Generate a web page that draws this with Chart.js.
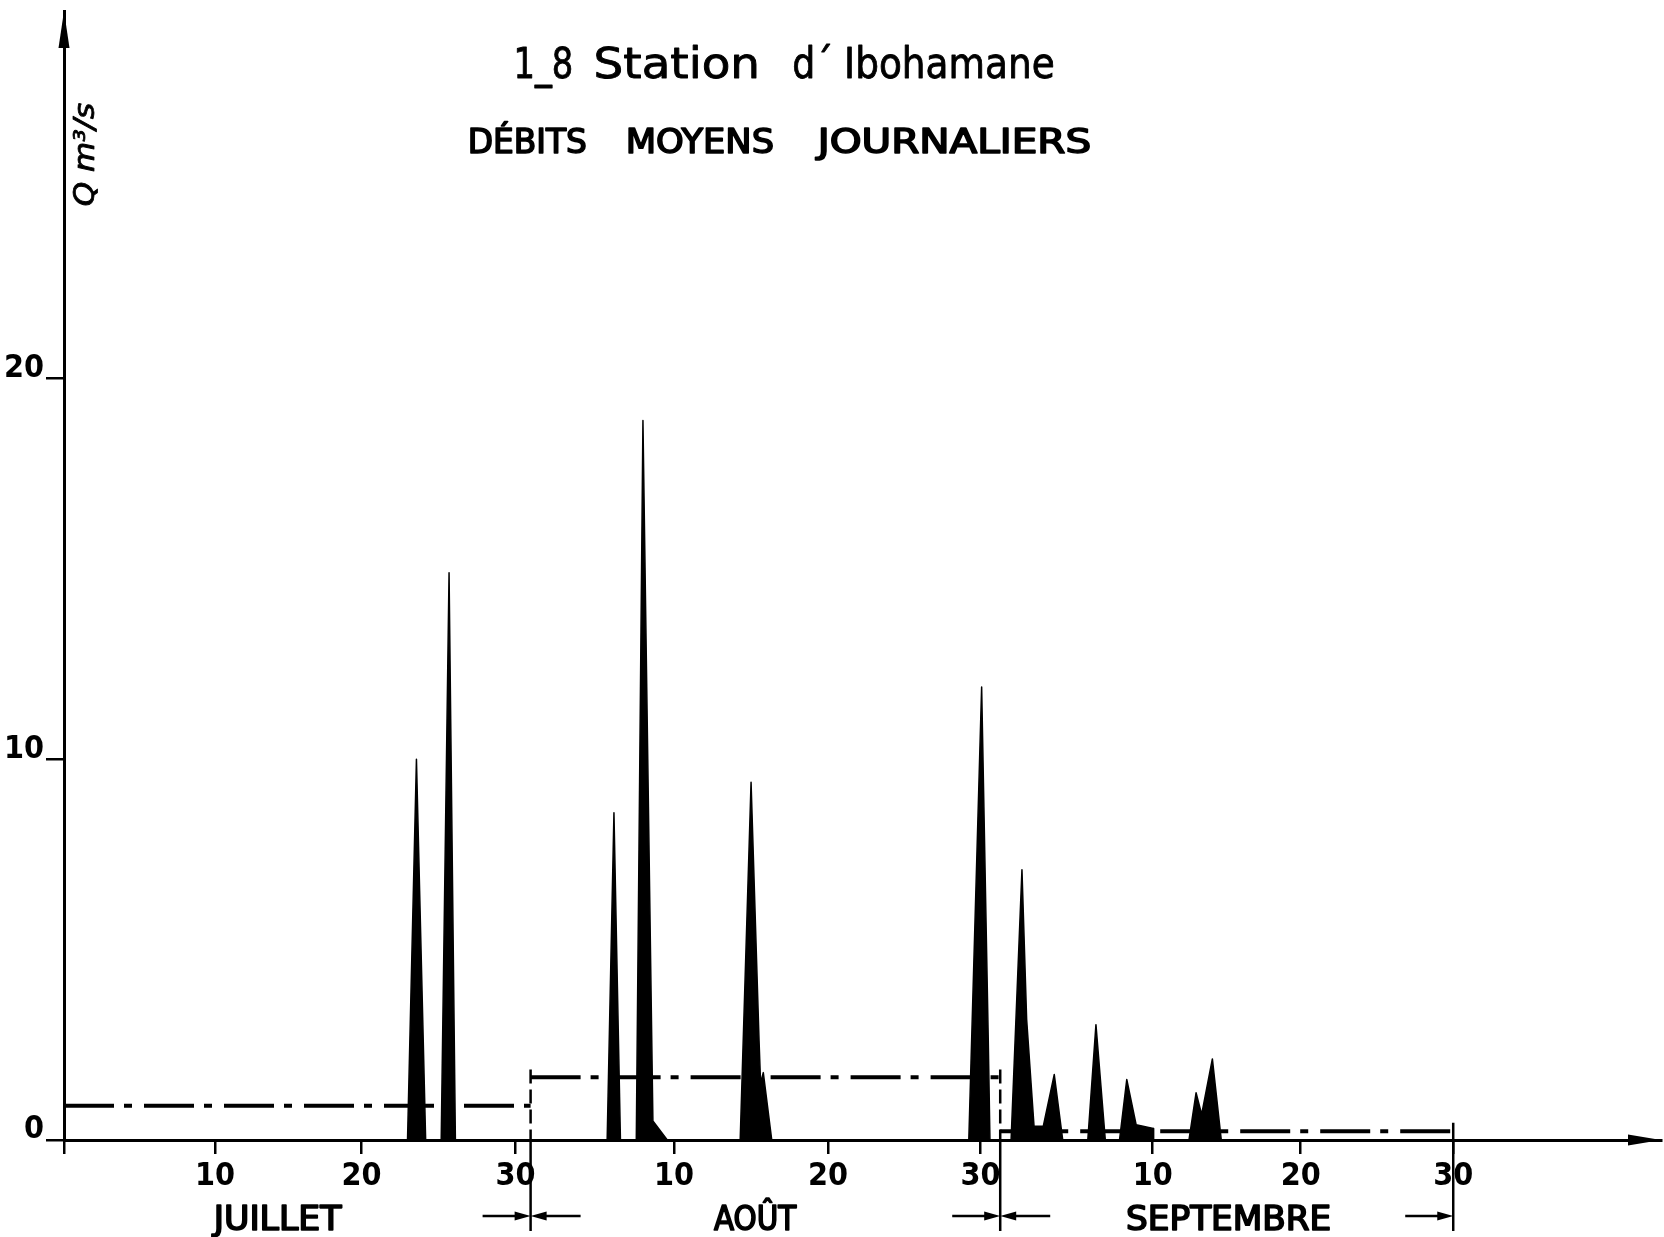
<!DOCTYPE html>
<html>
<head>
<meta charset="utf-8">
<script src="https://cdn.jsdelivr.net/npm/chart.js@4.4.1/dist/chart.umd.min.js"></script>
<style>
  html, body { margin: 0; padding: 0; background: #fff; }
  #wrap { width: 1664px; height: 1237px; position: relative; }
</style>
</head>
<body>
<div id="wrap"><canvas id="hydro"></canvas></div>
<script>
// position en jours sur le graphique (0 = axe, ~31 = fin juillet, ~62 = fin août)
const jours = [
  0, 22.75, 23.34, 23.95,
  24.98, 25.5, 25.92,
  35.97, 36.42, 36.85,
  37.9, 38.34, 39.0, 39.95,
  44.78, 45.5, 46.03, 46.13, 46.31, 46.87,
  59.92, 60.77, 61.21, 61.32,
  62.72, 63.44, 63.75, 64.24, 64.85, 65.58, 66.14,
  67.8, 68.34, 68.96,
  69.9, 70.38, 71.0, 72.14, 72.16,
  74.5, 74.97, 75.34, 76.05, 76.64,
  92
];
// débits en m3/s
const debits = [
  0, 0, 10.0, 0,
  0, 14.9, 0,
  0, 8.6, 0,
  0, 18.9, 0.5, 0,
  0, 9.4, 2.6, 1.5, 1.77, 0,
  0, 11.9, 2.6, 0,
  0, 7.1, 3.17, 0.36, 0.36, 1.72, 0,
  0, 3.03, 0,
  0, 1.59, 0.4, 0.3, 0,
  0, 1.24, 0.67, 2.13, 0,
  0
];

// débits moyens mensuels
const mois = ['JUILLET', 'AOÛT', 'SEPTEMBRE'];
const debutMois = [0, 30.9, 62.0];
const finMois = [30.9, 62.0, 92.0];
const debitsMoyens = [0.9, 1.65, 0.23];
const centreMois = [14.1, 45.8, 77.1];

const tickJours = [0, 10, 19.7, 29.9, 40.4, 50.6, 60.7, 72.1, 81.9, 92.0];
const tickLabels = ['', '10', '20', '30', '10', '20', '30', '10', '20', '30'];
const tickDebits = [0, 10, 20];

const FONT = "'DejaVu Sans Condensed', 'DejaVu Sans', sans-serif";
const FONT_TICK = "'Liberation Sans Narrow', 'DejaVu Sans Condensed', 'DejaVu Sans', sans-serif";

const hydrogramme = jours.map((j, i) => ({x: j, y: debits[i]}));

const datasets = [{
  data: hydrogramme,
  borderColor: '#000',
  backgroundColor: '#000',
  borderWidth: 1.5,
  borderJoinStyle: 'round',
  fill: 'origin',
  pointRadius: 0,
  tension: 0
}];

debitsMoyens.forEach((q, i) => {
  datasets.push({
    data: [{x: debutMois[i], y: q}, {x: finMois[i], y: q}],
    borderColor: '#000',
    borderWidth: 4,
    borderDash: [50, 10, 8, 12],
    fill: false,
    pointRadius: 0
  });
});

// traits de séparation des mois
[[finMois[0], 1.85, [14, 6]], [finMois[1], 1.85, [14, 6]], [finMois[2], 0.45, []]].forEach(l => {
  datasets.push({
    data: [{x: l[0], y: l[1]}, {x: l[0], y: 0}],
    borderColor: '#000',
    borderWidth: 2.5,
    borderDash: l[2],
    fill: false,
    pointRadius: 0
  });
});

function texteAjuste(ctx, txt, x0, x1, base, font, epais) {
  ctx.save();
  ctx.font = font;
  ctx.textAlign = 'left';
  ctx.textBaseline = 'alphabetic';
  const m = ctx.measureText(txt);
  const w = m.actualBoundingBoxLeft + m.actualBoundingBoxRight;
  const sx = (x1 - x0) / w;
  ctx.translate(x0, base);
  ctx.scale(sx, 1);
  ctx.fillText(txt, m.actualBoundingBoxLeft, 0);
  if (epais) {
    ctx.lineWidth = epais;
    ctx.lineJoin = 'round';
    ctx.strokeText(txt, m.actualBoundingBoxLeft, 0);
  }
  ctx.restore();
}

function fleche(ctx, x1, x2, y) {
  const d = x2 > x1 ? 1 : -1;
  ctx.beginPath();
  ctx.moveTo(x1, y);
  ctx.lineTo(x2 - d * 10, y);
  ctx.stroke();
  ctx.beginPath();
  ctx.moveTo(x2, y);
  ctx.lineTo(x2 - d * 16, y - 4.5);
  ctx.lineTo(x2 - d * 16, y + 4.5);
  ctx.closePath();
  ctx.fill();
}

const dessin = {
  id: 'dessin',
  afterDraw(chart) {
    const ctx = chart.ctx;
    const xs = chart.scales.x, ys = chart.scales.y;
    const area = chart.chartArea;
    const y0 = ys.getPixelForValue(0);
    ctx.save();
    ctx.fillStyle = '#000';
    ctx.strokeStyle = '#000';

    // flèches des axes
    ctx.beginPath();
    ctx.moveTo(area.left, area.top);
    ctx.lineTo(area.left - 5.5, area.top + 37);
    ctx.lineTo(area.left + 5.5, area.top + 37);
    ctx.closePath();
    ctx.fill();
    ctx.beginPath();
    ctx.moveTo(area.right, y0);
    ctx.lineTo(area.right - 33, y0 - 5.5);
    ctx.lineTo(area.right - 33, y0 + 5.5);
    ctx.closePath();
    ctx.fill();

    // cotes des mois sous l'axe
    ctx.lineWidth = 2.5;
    finMois.forEach((j, i) => {
      const px = xs.getPixelForValue(j);
      ctx.beginPath();
      ctx.moveTo(px, y0);
      ctx.lineTo(px, 1231);
      ctx.stroke();
      fleche(ctx, px - 48, px, 1216);
      if (i < 2) fleche(ctx, px + 50, px, 1216);
    });

    // noms des mois
    const larg = [131, 83, 202];
    mois.forEach((m, i) => {
      const c = xs.getPixelForValue(centreMois[i]);
      texteAjuste(ctx, m, c - larg[i] / 2, c + larg[i] / 2, 1230, '33px ' + FONT, 1.6);
    });

    // titres
    const f1 = '43px ' + FONT;
    texteAjuste(ctx, '1_8', 517, 571, 78, f1, 0.8);
    texteAjuste(ctx, 'Station', 596, 757, 78, f1, 0.8);
    texteAjuste(ctx, 'd´', 794, 831, 78, f1, 0.8);
    texteAjuste(ctx, 'Ibohamane', 847, 1053, 78, f1, 0.8);
    const f2 = '33px ' + FONT;
    texteAjuste(ctx, 'DÉBITS', 470, 586, 153, f2, 1.5);
    texteAjuste(ctx, 'MOYENS', 628, 773, 153, f2, 1.5);
    texteAjuste(ctx, 'JOURNALIERS', 815, 1090, 153, f2, 1.5);

    // unité de l'axe vertical
    ctx.save();
    ctx.translate(94, 205);
    ctx.rotate(-Math.PI / 2);
    texteAjuste(ctx, 'Q m³/s', 0, 102, 0, 'italic 28px ' + FONT, 0.8);
    ctx.restore();

    ctx.restore();
  }
};

new Chart(document.getElementById('hydro'), {
  type: 'line',
  data: {datasets: datasets},
  plugins: [dessin],
  options: {
    responsive: true,
    maintainAspectRatio: false,
    animation: false,
    devicePixelRatio: 1,
    layout: {padding: {top: 11, right: 3, left: 0, bottom: 0}},
    plugins: {legend: {display: false}, tooltip: {enabled: false}},
    scales: {
      x: {
        type: 'linear',
        min: 0,
        max: 105.76,
        afterBuildTicks: s => { s.ticks = tickJours.map(v => ({value: v})); },
        afterFit: s => { s.height = 97; s.paddingLeft = 0; s.paddingRight = 0; },
        ticks: {
          autoSkip: false,
          maxRotation: 0,
          padding: 3,
          color: '#000',
          font: {family: FONT_TICK, size: 32, weight: 'bold'},
          callback: (v, i) => tickLabels[i]
        },
        grid: {drawOnChartArea: false, drawTicks: true, tickLength: 14, color: '#000', lineWidth: 2.5},
        border: {display: true, color: '#000', width: 3}
      },
      y: {
        min: 0,
        max: 29.66,
        afterBuildTicks: s => { s.ticks = tickDebits.map(v => ({value: v})); },
        afterFit: s => { s.width = 64; s.paddingTop = 0; s.paddingBottom = 0; },
        ticks: {
          padding: 2,
          labelOffset: -10,
          color: '#000',
          font: {family: FONT_TICK, size: 32, weight: 'bold'},
          callback: v => String(v)
        },
        grid: {drawOnChartArea: false, drawTicks: true, tickLength: 18, color: '#000', lineWidth: 2.5},
        border: {display: true, color: '#000', width: 3}
      }
    }
  }
});
</script>
</body>
</html>
